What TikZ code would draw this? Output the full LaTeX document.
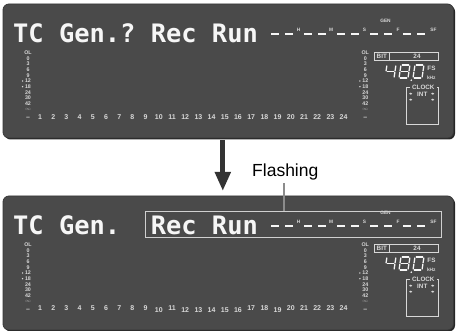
\documentclass[tikz,border=0pt]{standalone}
\usepackage{fontspec}
\setmainfont{Liberation Sans}
\newfontfamily\lcdfont{DejaVu Sans Mono}
\usetikzlibrary{arrows.meta}
\definecolor{panel}{HTML}{4A4A4A}
\definecolor{paneledge}{HTML}{383838}
\definecolor{panelshadow}{HTML}{262626}
\definecolor{lcd}{HTML}{F6F6F6}
\definecolor{lbl}{HTML}{D8D8D8}
\definecolor{dimlbl}{HTML}{A0A0A0}
\definecolor{arrowc}{HTML}{333333}
\definecolor{flashc}{HTML}{8C8C8C}
\definecolor{hlbox}{HTML}{D0D0D0}

\tikzset{
  big/.style={font=\lcdfont\bfseries\fontsize{25.4}{25.4}\selectfont\frenchspacing, text=lcd, inner sep=0pt, anchor=base west},
  num/.style={font=\bfseries\fontsize{7}{7}\selectfont, text=lbl, inner sep=0pt, anchor=base},
  scl/.style={font=\bfseries\fontsize{5.3}{5.3}\selectfont, text=lbl, inner sep=0pt, anchor=center},
  tinylbl/.style={font=\bfseries\fontsize{4.8}{4.8}\selectfont, text=lbl, inner sep=0pt, anchor=center},
  smalllbl/.style={font=\bfseries\fontsize{6.3}{6.3}\selectfont, text=lbl, inner sep=0pt, anchor=center},
  seg/.style={draw=lcd, line width=1.3pt, line cap=round},
  dashseg/.style={draw=lcd, line width=2pt},
  boxline/.style={draw=lbl, line width=0.8pt},
  flashline/.style={draw=flashc, line width=1.5pt},
  bigarrow/.style={draw=arrowc, line width=5pt, -{Triangle[width=15pt,length=19pt]}},
}

\def\digitfour{0/-12/0/-7.2, 1.3/-6.5/7.7/-6.5, 9/-12/9/-7.2, 9/-5.8/9/-1}
\def\digiteight{1.3/-13/7.7/-13, 0/-12/0/-7.2, 9/-12/9/-7.2, 1.3/-6.5/7.7/-6.5, 0/-5.8/0/-1, 9/-5.8/9/-1, 1.3/0/7.7/0}
\def\digitzero{1.3/-13/7.7/-13, 0/-12/0/-7.2, 9/-12/9/-7.2, 0/-5.8/0/-1, 9/-5.8/9/-1, 1.3/0/7.7/0}

\newcommand{\segdigit}[3]{%
  \begin{scope}[shift={(#1,#2)}, xslant=0.15]
    \foreach \xa/\ya/\xb/\yb in #3 {\draw[seg] (\xa,\ya) -- (\xb,\yb);}
  \end{scope}}

\newcommand{\scalecolumn}[2]{%
  \foreach \t [count=\k from 0] in {OL,0,3,6,9,12,18,24,30,42}
    {\node[scl] (#2\k) at (#1,{52.7+5.66*\k}) {\t};}
  \node[scl, text=dimlbl] (#2inf) at (#1,109.3) {$\infty$};
  \fill[lbl] ({#1-5.4},{52.7+5.66*5}) circle (0.8pt);
  \fill[lbl] ({#1-5.4},{52.7+5.66*6}) circle (0.8pt);
  \node[num] (#2dash) at (#1,119.8) {--};}

\newcommand{\lcdpanel}[4]{%
  \begin{scope}[shift={(0,#2)}, name prefix=#1-]
    \fill[panelshadow, rounded corners=6pt] (4.5,5.5) rectangle (455,139.5);
    \filldraw[fill=panel, draw=paneledge, line width=0.8pt, rounded corners=6pt] (3,4) rectangle (453.5,138);
    \node[big] (title) at (13,42.5) {#3};
    \foreach \g in {0,...,4} {
      \draw[dashseg] ({271+33.1*\g},34.5) -- ++(7.5,0);
      \draw[dashseg] ({285+33.1*\g},34.5) -- ++(7.5,0);}
    \node[tinylbl] (H) at (298.5,29.7) {H};
    \node[tinylbl] (M) at (331,29.7) {M};
    \node[tinylbl] (S) at (364.5,29.7) {S};
    \node[tinylbl] (F) at (398,29.7) {F};
    \node[tinylbl] (SF) at (433.5,29.7) {SF};
    \node[tinylbl] (GEN) at (385.5,21.3) {GEN};
    \scalecolumn{28}{L}
    \scalecolumn{365.3}{R}
    \foreach \i/\dy in #4 {\node[num] (n\i) at ({40+13.2*(\i-1)},{119.8+\dy}) {\i};}
    % BIT box
    \draw[boxline] (374.5,52) rectangle (438,60);
    \draw[boxline] (389.3,52) -- (389.3,60);
    \node[smalllbl] (bit) at (381.8,56.2) {BIT};
    \node[smalllbl] (bitval) at (417,56.2) {24};
    % 48.0
    \segdigit{385}{78}{\digitfour}
    \segdigit{399}{78}{\digiteight}
    \segdigit{413}{78}{\digitzero}
    \fill[lcd] (411.3,80.2) circle (0.9pt);
    \node[smalllbl] (fs) at (431.5,68) {FS};
    \node[tinylbl] (khz) at (431.3,77.3) {kHz};
    % CLOCK box
    \draw[boxline] (410,87) -- (406.7,87) -- (406.7,124.7) -- (438,124.7) -- (438,87) -- (436.5,87);
    \node[smalllbl] (clock) at (423.3,87.2) {CLOCK};
    \node[smalllbl] (int) at (422.3,93.9) {INT};
    \foreach \px/\py in {410.7/93.7, 432.7/93.7, 410.7/99.7, 432.7/99.7}
      {\fill[lbl] (\px,\py) ellipse (1.6pt and 1pt);}
  \end{scope}}

\begin{document}
\begin{tikzpicture}[x=1pt, y=-1pt]
  \useasboundingbox (0,0) rectangle (456,331);
  \fill[white] (0,0) rectangle (456,331);
  \lcdpanel{top}{0}{TC Gen.? Rec Run}{{1/0,2/0,3/0,4/0,5/0,6/0,7/0,8/0,9/0,10/0,11/0,12/0,13/0,14/0,15/0,16/0,17/0,18/0,19/0,20/0,21/0,22/0,23/0,24/0}}
  \lcdpanel{bot}{192}{TC Gen.\phantom{?} Rec Run}{{1/-1.5,2/-1.5,3/-1.5,4/-1.5,5/-1.5,6/-1.5,7/-1.5,8/-1.5,9/-1.5,10/0.3,11/-1.5,12/0.3,13/0.3,14/0.3,15/0.3,16/0.3,17/-1.5,18/-1.5,19/0.6,20/-1.5,21/-1.5,22/-1.5,23/-1.5,24/-1.5}}
  % highlight box
  \node[draw=hlbox, line width=0.8pt, minimum width=296pt, minimum height=26pt, inner sep=0pt] (hl) at (293,224) {};
  % arrow
  \coordinate (arrowtop) at (222.8,140);
  \coordinate (arrowtip) at (222.8,191);
  \draw[bigarrow] (arrowtop) -- (arrowtip);
  % Flashing label
  \node[font=\fontsize{17.5}{17.5}\selectfont, anchor=base west, inner sep=0pt] (flash) at (252,177) {Flashing};
  \coordinate (flashfoot) at (284,183.5);
  \draw[flashline] (flashfoot) -- (flashfoot |- hl.north);
\end{tikzpicture}
\end{document}
